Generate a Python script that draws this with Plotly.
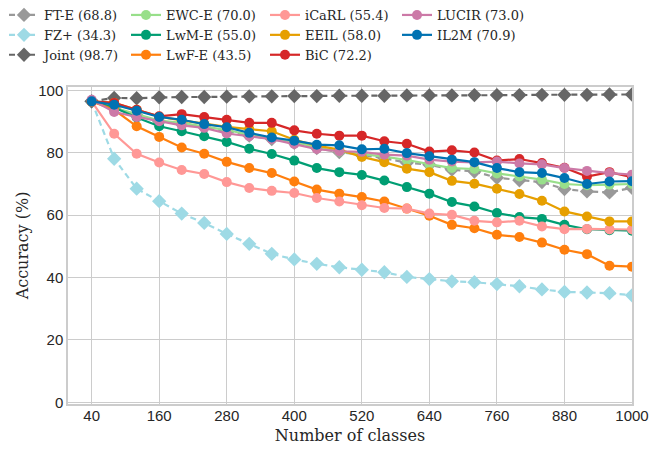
import plotly.graph_objects as go

classes = list(range(40, 1001, 40))
x_ticks = [40, 160, 280, 400, 520, 640, 760, 880, 1000]
y_ticks = [0, 20, 40, 60, 80, 100]

ft_e = [96.5, 94.3, 92.0, 90.0, 89.3, 88.2, 87.0, 85.5, 84.4, 83.2, 81.5, 80.2, 79.3, 78.3, 76.8, 76.2, 74.6, 74.0, 72.0, 71.2, 70.6, 68.4, 67.6, 67.3, 68.8]
fz_plus = [96.5, 78.1, 68.5, 64.5, 60.5, 57.5, 54.0, 50.8, 47.6, 45.8, 44.4, 43.3, 42.5, 41.7, 40.2, 39.5, 38.8, 38.5, 37.9, 37.2, 36.2, 35.4, 35.2, 35.0, 34.3]
joint = [96.5, 97.6, 97.5, 97.8, 97.9, 97.9, 98.0, 98.1, 98.1, 98.2, 98.2, 98.3, 98.3, 98.3, 98.4, 98.4, 98.4, 98.5, 98.5, 98.5, 98.6, 98.6, 98.6, 98.7, 98.7]
ewc_e = [96.5, 94.5, 92.3, 90.3, 89.6, 88.5, 87.3, 85.8, 84.7, 83.5, 81.7, 80.4, 79.6, 78.8, 77.7, 76.4, 75.1, 74.8, 73.4, 72.4, 71.4, 70.0, 69.6, 69.8, 70.0]
lwm_e = [96.5, 94.5, 91.3, 88.5, 86.9, 85.3, 83.5, 81.3, 79.6, 77.5, 75.1, 73.8, 72.9, 71.1, 69.0, 66.9, 64.2, 62.8, 60.7, 59.4, 58.8, 56.9, 55.5, 55.2, 55.0]
lwf_e = [96.5, 93.8, 88.5, 85.1, 81.7, 79.7, 77.1, 75.1, 73.5, 70.8, 68.2, 66.9, 65.8, 64.4, 62.1, 59.8, 56.9, 55.8, 53.7, 53.0, 51.2, 48.9, 47.5, 43.8, 43.5]
icarl = [96.5, 86.1, 79.7, 76.9, 74.5, 73.2, 70.6, 68.7, 67.8, 67.1, 65.5, 64.4, 63.2, 62.3, 62.1, 60.5, 60.1, 58.2, 57.7, 58.2, 56.4, 55.5, 55.6, 55.4, 55.4]
eeil = [96.5, 96.0, 93.8, 91.6, 90.4, 89.3, 88.3, 87.6, 86.9, 84.2, 82.3, 81.0, 78.7, 77.0, 74.9, 73.8, 71.0, 70.1, 68.5, 66.8, 64.6, 61.2, 59.6, 58.0, 58.0]
bic = [96.5, 96.0, 93.8, 91.7, 92.4, 91.5, 90.6, 89.6, 89.6, 87.2, 86.1, 85.5, 85.5, 83.7, 82.9, 80.4, 80.8, 80.1, 77.5, 78.0, 76.7, 75.2, 72.4, 73.8, 72.2]
lucir = [97.0, 93.1, 91.5, 90.1, 88.8, 88.0, 86.2, 85.3, 84.4, 82.8, 81.2, 80.5, 80.3, 79.4, 79.1, 77.8, 77.2, 76.9, 77.2, 76.6, 76.3, 75.1, 74.2, 73.5, 73.0]
il2m = [96.5, 95.4, 93.5, 91.5, 90.6, 89.2, 88.2, 86.4, 84.9, 83.9, 82.6, 82.4, 81.1, 81.3, 79.9, 78.9, 77.8, 77.0, 75.1, 73.8, 73.5, 71.9, 70.0, 70.8, 70.9]

series = [
    ("FT-E (68.8)", ft_e, "#999999", "diamond", "dash", "legend"),
    ("FZ+ (34.3)", fz_plus, "#9EDAE5", "diamond", "dash", "legend"),
    ("Joint (98.7)", joint, "#666666", "diamond", "dash", "legend"),
    ("EWC-E (70.0)", ewc_e, "#98DF8A", "circle", "solid", "legend2"),
    ("LwM-E (55.0)", lwm_e, "#009E73", "circle", "solid", "legend2"),
    ("LwF-E (43.5)", lwf_e, "#FF7F0E", "circle", "solid", "legend2"),
    ("iCaRL (55.4)", icarl, "#FF9896", "circle", "solid", "legend3"),
    ("EEIL (58.0)", eeil, "#E69F00", "circle", "solid", "legend3"),
    ("BiC (72.2)", bic, "#D62728", "circle", "solid", "legend3"),
    ("LUCIR (73.0)", lucir, "#CC79A7", "circle", "solid", "legend4"),
    ("IL2M (70.9)", il2m, "#0072B2", "circle", "solid", "legend4"),
]

fig = go.Figure()
for name, vals, color, sym, dash, leg in series:
    fig.add_trace(go.Scatter(
        x=classes, y=vals, name=name, mode="lines+markers", legendgroup=name,
        line=dict(color=color, width=2.2, dash="6px,4px" if dash == "dash" else "solid"),
        marker=dict(color=color, symbol=sym, size=11 if sym == "diamond" else 10, line=dict(width=0)),
        legend=leg,
    ))

W, H = 650, 451
ML, MR, MT, MB = 68, 18, 87, 47
PW, PH = W - ML - MR, H - MT - MB
legend_font = dict(family="DejaVu Serif", size=13, color="#262626")
def leg(xpx):
    return dict(x=(xpx - ML) / PW, y=1 + (MT + 0) / PH, xanchor="left", yanchor="top",
                orientation="v", font=legend_font, bgcolor="rgba(0,0,0,0)", tracegroupgap=9,
                itemwidth=30, traceorder="normal")

fig.update_layout(
    width=W, height=H,
    margin=dict(l=ML, r=MR, t=MT, b=MB, autoexpand=False),
    paper_bgcolor="white", plot_bgcolor="white",
    legend=leg(4), legend2=leg(126), legend3=leg(265), legend4=leg(397),
    xaxis=dict(range=[-2, 1000], tickvals=x_ticks, showgrid=True, gridcolor="#cccccc", gridwidth=1,
               showline=True, linecolor="#cccccc", linewidth=1.5, mirror=True, zeroline=False,
               ticks="outside", ticklen=0, tickcolor="white", automargin=False,
               ticklabeloverflow="allow", ticklabelstandoff=-3,
               tickfont=dict(family="Liberation Sans", size=15, color="#262626"),
               title=dict(text="Number of classes", font=dict(family="DejaVu Serif", size=16, color="#262626"), standoff=7)),
    yaxis=dict(range=[-0.55, 101.1], tickvals=y_ticks, showgrid=True, gridcolor="#cccccc", gridwidth=1,
               showline=True, linecolor="#cccccc", linewidth=1.5, mirror=True, zeroline=False,
               ticks="outside", ticklen=0, tickcolor="white", automargin=False,
               tickfont=dict(family="Liberation Sans", size=15, color="#262626"),
               title=dict(text="Accuracy (%)", font=dict(family="DejaVu Serif", size=16, color="#262626"), standoff=6)),
)
fig.write_html("out.html", config={"displayModeBar": False},
               post_script="document.body.style.margin='0';")
